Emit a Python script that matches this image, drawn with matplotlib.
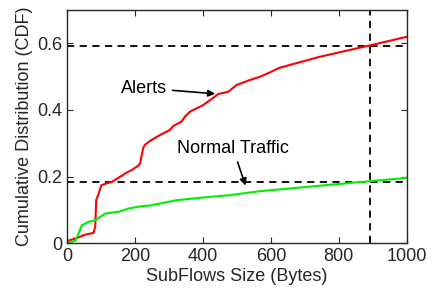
import matplotlib
matplotlib.use("Agg")
import matplotlib.pyplot as plt

plt.rcParams['font.family'] = ['Liberation Sans', 'DejaVu Sans']

alerts_x = [0, 25, 39, 49, 78, 83, 86, 93, 101, 118, 132, 176, 191, 210, 215, 219, 224, 229, 244, 274, 303, 313, 337, 347, 362, 401, 435, 445, 475, 499, 538, 568, 597, 626, 744, 891, 1000]
alerts_y = [0.006, 0.014, 0.019, 0.024, 0.031, 0.049, 0.129, 0.149, 0.174, 0.18, 0.184, 0.212, 0.22, 0.233, 0.24, 0.26, 0.285, 0.295, 0.307, 0.325, 0.34, 0.352, 0.365, 0.38, 0.395, 0.415, 0.44, 0.448, 0.455, 0.475, 0.49, 0.50, 0.513, 0.527, 0.56, 0.594, 0.62]

normal_x = [0, 10, 25, 34, 44, 64, 83, 98, 113, 152, 181, 220, 244, 323, 421, 479, 568, 891, 1000]
normal_y = [0.0, 0.003, 0.007, 0.029, 0.054, 0.064, 0.069, 0.079, 0.089, 0.094, 0.104, 0.111, 0.113, 0.129, 0.139, 0.144, 0.156, 0.186, 0.196]

hlines = [0.593, 0.184]
vline = 891

fig = plt.figure(figsize=(4.34, 2.99), dpi=100)
ax = fig.add_axes([0.1544, 0.187, 0.783, 0.779])

for h in hlines:
    ax.axhline(h, color='black', lw=1.3, ls=(0, (4, 3)), zorder=1)
ax.axvline(vline, color='black', lw=1.3, ls=(0, (4, 3)), zorder=1)

ax.plot(alerts_x, alerts_y, color='#ff0000', lw=1.5, zorder=2)
ax.plot(normal_x, normal_y, color='#00ee00', lw=1.5, zorder=2)

ax.annotate('Alerts', xy=(444, 0.448), xytext=(294, 0.466), fontsize=13,
            ha='right', va='center',
            arrowprops=dict(arrowstyle='-|>', color='black', lw=1.2, mutation_scale=10))
ax.annotate('Normal Traffic', xy=(528, 0.165), xytext=(488, 0.26), fontsize=13,
            ha='center', va='bottom',
            arrowprops=dict(arrowstyle='-|>', color='black', lw=1.2, mutation_scale=10))

ax.set_xlim(0, 1000)
ax.set_ylim(0, 0.7)
ax.set_xticks([0, 200, 400, 600, 800, 1000])
ax.set_yticks([0, 0.2, 0.4, 0.6])
ax.set_yticklabels(['0', '0.2', '0.4', '0.6'])
ax.tick_params(direction='in', top=True, right=True, labelsize=13, colors='#262626', length=4)
for s in ax.spines.values():
    s.set_color('#262626')
    s.set_linewidth(1.0)
ax.set_xlabel('SubFlows Size (Bytes)', fontsize=13, color='#262626', labelpad=2)
ax.set_ylabel('Cumulative Distribution (CDF)', fontsize=13, color='#262626', labelpad=3)

fig.savefig('out.png', dpi=100)
